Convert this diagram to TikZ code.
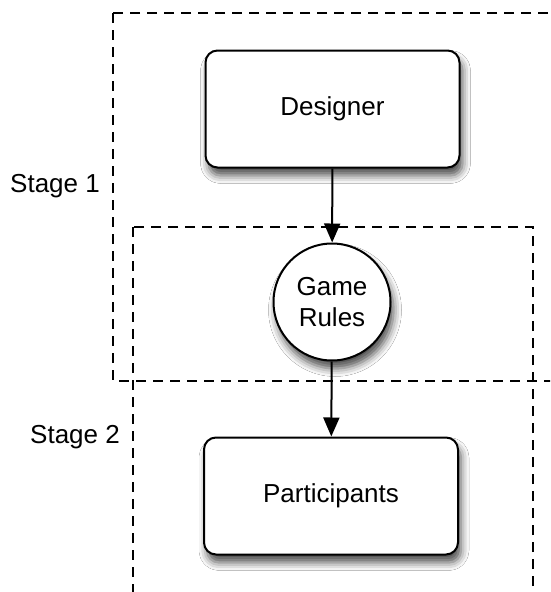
\documentclass[tikz,border=0pt]{standalone}
\usepackage{fontspec}
\setmainfont{Liberation Sans}
\usepackage{tikz}
\usetikzlibrary{arrows.meta}
\usetikzlibrary{shadows.blur}

\begin{document}
\begin{tikzpicture}[x=1pt,y=-1pt,>={Triangle[length=19pt,width=16pt]},
    stagebox/.style={draw,dashed,line width=1.6pt,dash pattern=on 10pt off 7pt},
    actor/.style={rectangle,draw,fill=white,rounded corners=12pt,line width=2pt,
        minimum width=254pt,minimum height=117pt,font=\fontsize{26}{30}\selectfont,
        blur shadow={shadow xshift=3pt,shadow yshift=-8pt,shadow blur radius=8pt,shadow opacity=70}},
    rules/.style={circle,draw,fill=white,line width=2pt,minimum size=117pt,inner sep=0pt,
        align=center,font=\fontsize{26}{31}\selectfont,
        blur shadow={shadow xshift=3pt,shadow yshift=-8pt,shadow blur radius=8pt,shadow opacity=70}}]
    \clip (0,0) rectangle (550,592);
    \fill[white] (0,0) rectangle (550,592);

    % zwei Phasen als gestrichelte Rahmen
    \draw[stagebox] (113,13) rectangle (600,381);
    \draw[stagebox] (133,227) rectangle (533,640);

    \node[font=\fontsize{26}{30}\selectfont] (stage1) at (55,186) {Stage 1};
    \node[font=\fontsize{26}{30}\selectfont] (stage2) at (75,437) {Stage 2};

    \node[actor] (designer) at (332.5,109) {Designer};
    \node[rules] (game) at (332,302) {Game\\Rules};
    \node[actor] (part) at (331,496) {Participants};

    \draw[->,line width=2pt] (designer) -- (game);
    \draw[->,line width=2pt] (game) -- (part);
\end{tikzpicture}
\end{document}
